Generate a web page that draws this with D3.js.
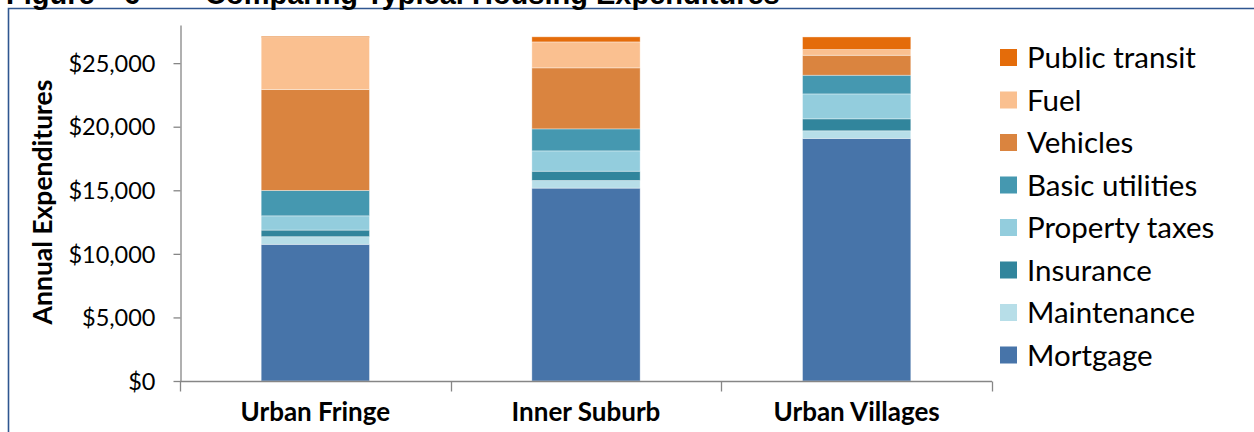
<!DOCTYPE html>
<html>
<head>
<meta charset="utf-8">
<script src="https://cdn.jsdelivr.net/npm/d3@7"></script>
<style>
  html, body { margin: 0; padding: 0; background: #fff; overflow: hidden; }
  svg { display: block; }
</style>
</head>
<body>
<svg id="chart" width="1254" height="432"></svg>
<script>
// Annual housing + transportation expenditures by neighbourhood type
const categories = ["Urban Fringe", "Inner Suburb", "Urban Villages"];
const seriesNames = ["Mortgage", "Maintenance", "Insurance", "Property taxes",
                     "Basic utilities", "Vehicles", "Fuel", "Public transit"];
const mortgage      = [10750, 15170, 19080];
const maintenance   = [600, 600, 600];
const insurance     = [520, 730, 940];
const propertyTaxes = [1120, 1600, 1960];
const basicUtilities= [2000, 1730, 1470];
const vehicles      = [7940, 4800, 1570];
const fuel          = [4080, 2040, 450];
const publicTransit = [100, 400, 990];
const yTicks = [0, 5000, 10000, 15000, 20000, 25000];
const seriesColors = ["#4774A9", "#B7DEE8", "#31859C", "#93CDDD",
                      "#4598B0", "#DA843F", "#FAC090", "#E46C0A"];

const seriesValues = [mortgage, maintenance, insurance, propertyTaxes,
                      basicUtilities, vehicles, fuel, publicTransit];
const rows = categories.map((c, i) => {
  const r = { category: c };
  seriesNames.forEach((s, j) => { r[s] = seriesValues[j][i]; });
  return r;
});

const svg = d3.select("#chart");

// Frame of the figure box
svg.append("path")
  .attr("d", "M8.5,440 L8.5,8.5 L1260,8.5")
  .attr("fill", "none")
  .attr("stroke", "#2F5690")
  .attr("stroke-width", 1.6);

// Figure caption (runs off the top edge)
const titleFont = "'Liberation Sans', Arial, sans-serif";
const caption = svg.append("text").attr("y", 4)
  .attr("font-family", titleFont).attr("font-weight", "bold").attr("font-size", 29)
  .attr("fill", "#000");
caption.append("tspan").attr("x", 6).text("Figure");
caption.append("tspan").attr("x", 124).text("6");
caption.append("tspan").attr("x", 205).text("Comparing Typical Housing Expenditures");

const font = "Lato, 'Open Sans', sans-serif";
const axisColor = "#868686";

const x = d3.scaleBand().domain(categories).range([180, 992])
  .paddingInner(0.6).paddingOuter(0.3);
const y = d3.scaleLinear().domain([0, 28000]).range([381, 25]);

const stacked = d3.stack().keys(seriesNames)(rows);

// Stacked bars
svg.append("g").selectAll("g")
  .data(stacked)
  .join("g")
  .attr("fill", (d, i) => seriesColors[i])
  .selectAll("rect")
  .data(d => d)
  .join("rect")
  .attr("x", d => x(d.data.category))
  .attr("width", x.bandwidth())
  .attr("y", d => y(d[1]))
  .attr("height", d => y(d[0]) - y(d[1]))
  .attr("stroke", "rgba(255,255,255,0.45)")
  .attr("stroke-width", 0.8);

// Y axis
const yAxis = svg.append("g")
  .attr("transform", "translate(180.5,0)")
  .call(d3.axisLeft(y).tickValues(yTicks).tickSize(7).tickSizeOuter(0)
    .tickPadding(18)
    .tickFormat(v => "$" + d3.format(",")(v)));
yAxis.select(".domain").attr("stroke", axisColor).attr("stroke-width", 1.3);
yAxis.selectAll(".tick line").attr("stroke", axisColor).attr("stroke-width", 1.3);
yAxis.selectAll(".tick text")
  .attr("font-family", font).attr("font-size", 23.5).attr("fill", "#000")
  .attr("dy", "0.35em");

// X axis with ticks at category boundaries
const xAxisG = svg.append("g").attr("transform", "translate(0,381.5)");
xAxisG.append("line")
  .attr("x1", x.range()[0]).attr("x2", x.range()[1])
  .attr("stroke", axisColor).attr("stroke-width", 1.3);
const step = x.step();
const bounds = [x.range()[0]].concat(categories.map(c => x(c) + x.bandwidth() / 2 + step / 2));
xAxisG.selectAll("line.tick")
  .data(bounds)
  .join("line").attr("class", "tick")
  .attr("x1", d => Math.round(d) + 0.5).attr("x2", d => Math.round(d) + 0.5)
  .attr("y1", 0).attr("y2", 10)
  .attr("stroke", axisColor).attr("stroke-width", 1.3);
xAxisG.selectAll("text")
  .data(categories)
  .join("text")
  .attr("x", d => x(d) + x.bandwidth() / 2)
  .attr("y", 39)
  .attr("text-anchor", "middle")
  .attr("font-family", font).attr("font-weight", "bold").attr("font-size", 26)
  .attr("fill", "#000")
  .text(d => d);

// Y axis title
svg.append("text")
  .attr("transform", "translate(52,202) rotate(-90)")
  .attr("text-anchor", "middle")
  .attr("font-family", font).attr("font-weight", "bold").attr("font-size", 26.5)
  .attr("fill", "#000")
  .text("Annual Expenditures");

// Legend, top entry is the top of the stack
const legendItems = seriesNames.map((s, i) => ({ name: s, color: seriesColors[i] })).reverse();
const legend = svg.append("g").selectAll("g")
  .data(legendItems)
  .join("g")
  .attr("transform", (d, i) => `translate(1000,${58 + i * 42.5})`);
legend.append("rect")
  .attr("x", 0).attr("y", -9).attr("width", 17).attr("height", 17)
  .attr("fill", d => d.color);
legend.append("text")
  .attr("x", 27).attr("y", 0).attr("dy", "0.35em")
  .attr("font-family", font).attr("font-size", 29.5).attr("fill", "#000")
  .text(d => d.name);
</script>
</body>
</html>
